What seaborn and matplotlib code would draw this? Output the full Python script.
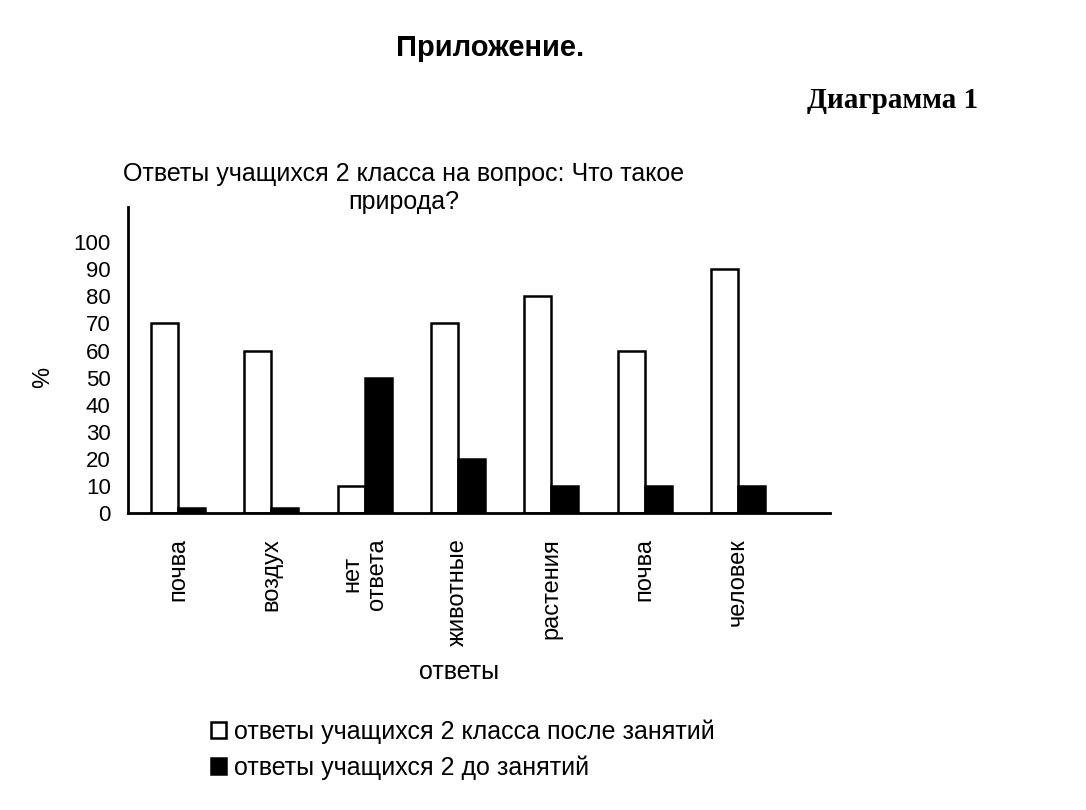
import numpy as np
import pandas as pd
import matplotlib
matplotlib.use("Agg")
import matplotlib.pyplot as plt
import seaborn as sns

# Данные диаграммы
categories = ["почва", "воздух", "нет\nответа", "животные", "растения", "почва", "человек"]
after_vals = [70, 60, 10, 70, 80, 60, 90]    # после занятий (белые)
before_vals = [2, 2, 50, 20, 10, 10, 10]     # до занятий (чёрные)
series_names = ["ответы учащихся 2 класса после занятий", "ответы учащихся 2 до занятий"]
y_ticks = list(range(0, 101, 10))

# Таблица для seaborn (позиции как строки, т.к. "почва" повторяется)
pos = [str(i) for i in range(len(categories))]
df = pd.DataFrame({
    "pos": pos * 2,
    "value": after_vals + before_vals,
    "series": [series_names[0]] * len(pos) + [series_names[1]] * len(pos),
})

sns.set_theme(style="white")
plt.rcParams["font.family"] = ["Liberation Sans", "DejaVu Sans"]
for key in ["text.color", "axes.labelcolor", "xtick.color", "ytick.color"]:
    plt.rcParams[key] = "black"

fig = plt.figure(figsize=(10.86, 8.10), dpi=100)
ax = fig.add_axes([128 / 1086, 1 - 513 / 810, (830 - 128) / 1086, (513 - 207) / 810])

sns.barplot(data=df, x="pos", y="value", hue="series", order=pos,
            hue_order=series_names, palette=["white", "black"],
            edgecolor="black", linewidth=1.8, width=0.58, ax=ax,
            legend=True)

ax.set_xlim(-0.536, 6.986)
ax.set_ylim(0, 113)
ax.set_yticks(y_ticks)
ax.set_yticklabels([str(t) for t in y_ticks], fontsize=16)
ax.set_xticks(range(len(categories)))
ax.set_xticklabels(categories, rotation=90, fontsize=17, va="top",
                   ha="center", multialignment="center")
ax.set_xticks(np.arange(-0.5, len(categories) + 0.5, 1.0), minor=True)
ax.tick_params(axis="x", which="major", length=0, pad=18)
ax.tick_params(axis="x", which="minor", length=4, width=1, direction="out", color="black")
ax.tick_params(axis="y", length=5, width=1.2, direction="inout", color="black", pad=10)
ax.set_xlabel("")
ax.set_ylabel("")

for side in ["top", "right"]:
    ax.spines[side].set_visible(False)
for side in ["left", "bottom"]:
    ax.spines[side].set_color("black")
    ax.spines[side].set_linewidth(2)

# Легенда под графиком
handles, labels = ax.get_legend_handles_labels()
ax.get_legend().remove()
fig.legend(handles, labels, loc="upper left", bbox_to_anchor=(188 / 1086, 1 - 697 / 810),
           frameon=False, fontsize=18, handlelength=0.62, handleheight=0.62,
           handletextpad=0.3, labelspacing=0.45)

# Подписи
fig.text(459 / 1086, 1 - 672 / 810, "ответы", fontsize=18, ha="center", va="center")
fig.text(43 / 1086, 1 - 377 / 810, "%", fontsize=17, ha="center", va="center", rotation=90)
fig.text(404 / 1086, 1 - 188 / 810, "Ответы учащихся 2 класса на вопрос: Что такое\nприрода?",
         fontsize=18, ha="center", va="center", linespacing=1.25)
fig.text(490 / 1086, 1 - 48 / 810, "Приложение.", fontsize=21, fontweight="bold",
         ha="center", va="center")
fig.text(893 / 1086, 1 - 101 / 810, "Диаграмма 1", fontsize=21, fontweight="bold",
         ha="center", va="center", family=["Liberation Serif", "DejaVu Serif"])

fig.savefig("out.png", dpi=100)
